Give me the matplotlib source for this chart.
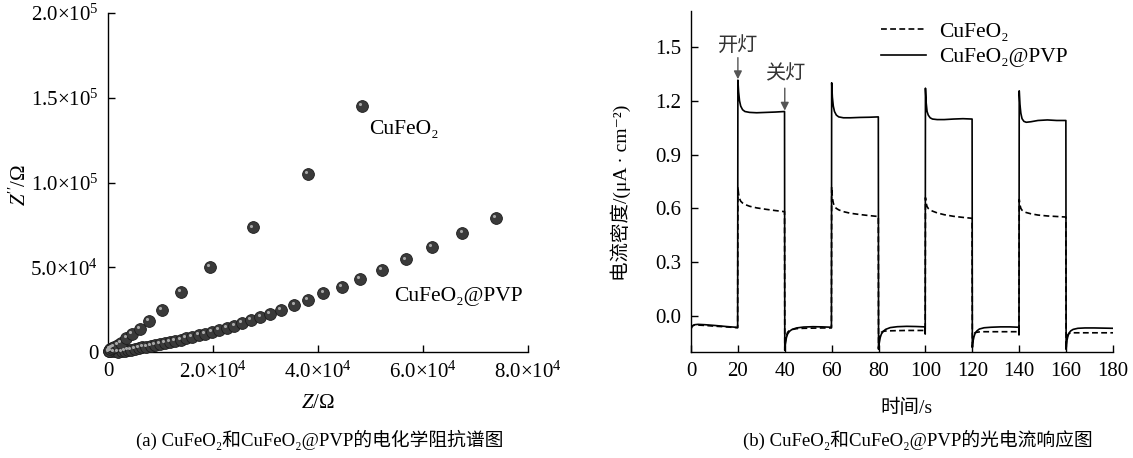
import matplotlib
matplotlib.use("Agg")
import matplotlib.pyplot as plt
import matplotlib.transforms as mtransforms

plt.rcParams['font.family'] = ['Liberation Serif', 'Noto Sans CJK SC', 'DejaVu Sans']
plt.rcParams['mathtext.fontset'] = 'custom'
plt.rcParams['mathtext.rm'] = 'Liberation Serif'
plt.rcParams['mathtext.it'] = 'Liberation Serif:italic'
plt.rcParams['font.size'] = 14

# ---- (a) EIS data ----
eis_x_cufeo2 = [100, 300, 700, 1200, 1900, 2500, 3500, 4600, 6100, 7800,
                10300, 13900, 19400, 27600, 38100, 48400]
eis_y_cufeo2 = [600, 1800, 2400, 3000, 4200, 5300, 8300, 10600, 13600, 18300,
                24800, 35400, 50300, 73500, 105000, 145000]

eis_x_pvp = [200, 600, 1200, 1900, 2600, 3250, 3810, 4430, 5130, 5810, 6570,
             7320, 8150, 8960, 9850, 10790, 11740, 12740, 13810, 14870,
             16000, 17260, 18530, 19770, 21170, 22600, 24060, 25570, 27210,
             29020, 30910, 32980, 35510, 38020, 41040, 44490, 48020, 52100,
             56700, 61700, 67500, 73900]
eis_y_pvp = [400, 500, 300, 200, 300, 590, 1000, 1360, 1770, 2180, 2770,
             3130, 3720, 4130, 4720, 5310, 5900, 6670, 7260, 8080,
             8850, 9850, 10800, 11800, 12980, 14160, 15520, 16930, 18700,
             20470, 22420, 24780, 27730, 30680, 34630, 38530, 42890, 48200,
             54600, 61800, 70300, 79300]

eis_xticks = [0, 20000, 40000, 60000, 80000]
eis_xticklabels = ['0', r'$2.0{\times}10^{4}$', r'$4.0{\times}10^{4}$',
                   r'$6.0{\times}10^{4}$', r'$8.0{\times}10^{4}$']
eis_yticks = [0, 50000, 100000, 150000, 200000]
eis_yticklabels = ['0', r'$5.0{\times}10^{4}$', r'$1.0{\times}10^{5}$',
                   r'$1.5{\times}10^{5}$', r'$2.0{\times}10^{5}$']

# ---- (b) photocurrent data ----
t_pc = [0, 0.5, 1.5, 3, 6, 10, 15, 19.9,
        20, 20.3, 20.7, 21.2, 22, 23, 25, 28, 32, 36, 39.9,
        40, 40.3, 40.7, 41.2, 42, 43, 45, 48, 52, 56, 59.9,
        60, 60.3, 60.7, 61.2, 62, 63, 65, 68, 72, 76, 79.9,
        80, 80.3, 80.7, 81.2, 82, 83, 85, 88, 92, 96, 99.8, 99.9,
        100, 100.3, 100.7, 101.2, 102, 103, 105, 108, 112, 116, 119.9,
        120, 120.3, 120.7, 121.2, 122, 123, 125, 128, 132, 136, 139.8, 139.9,
        140, 140.3, 140.7, 141.2, 142, 143, 145, 148, 152, 156, 159.9,
        160, 160.3, 160.7, 161.2, 162, 163, 165, 168, 172, 176, 180]

j_pvp = [-0.072, -0.055, -0.048, -0.046, -0.048, -0.052, -0.058, -0.063,
         1.315, 1.25, 1.2, 1.17, 1.15, 1.14, 1.135, 1.133, 1.135, 1.137, 1.14,
         -0.19, -0.15, -0.12, -0.1, -0.085, -0.075, -0.066, -0.061, -0.059, -0.06, -0.062,
         1.3, 1.22, 1.17, 1.14, 1.12, 1.11, 1.105, 1.105, 1.107, 1.108, 1.11,
         -0.185, -0.15, -0.12, -0.1, -0.085, -0.074, -0.064, -0.059, -0.057, -0.058, -0.06, -0.1,
         1.27, 1.19, 1.14, 1.12, 1.105, 1.098, 1.095, 1.095, 1.098, 1.1, 1.098,
         -0.175, -0.14, -0.115, -0.095, -0.082, -0.072, -0.065, -0.062, -0.06, -0.06, -0.062, -0.105,
         1.255, 1.18, 1.13, 1.1, 1.085, 1.08, 1.083, 1.09, 1.093, 1.09, 1.09,
         -0.185, -0.14, -0.115, -0.095, -0.082, -0.074, -0.068, -0.066, -0.066, -0.067, -0.068]

j_cufeo2 = [-0.07, -0.055, -0.05, -0.05, -0.052, -0.056, -0.06, -0.065,
            0.72, 0.68, 0.655, 0.64, 0.63, 0.622, 0.612, 0.603, 0.595, 0.588, 0.582,
            -0.19, -0.14, -0.11, -0.09, -0.08, -0.075, -0.07, -0.068, -0.067, -0.066, -0.066,
            0.72, 0.66, 0.63, 0.61, 0.6, 0.592, 0.582, 0.573, 0.566, 0.56, 0.555,
            -0.18, -0.12, -0.1, -0.09, -0.085, -0.083, -0.082, -0.081, -0.08, -0.08, -0.08, -0.08,
            0.66, 0.63, 0.61, 0.6, 0.592, 0.585, 0.575, 0.565, 0.556, 0.55, 0.545,
            -0.17, -0.12, -0.1, -0.092, -0.09, -0.088, -0.087, -0.087, -0.087, -0.087, -0.087, -0.087,
            0.65, 0.62, 0.6, 0.59, 0.582, 0.577, 0.57, 0.563, 0.558, 0.555, 0.552,
            -0.18, -0.125, -0.105, -0.097, -0.094, -0.093, -0.093, -0.093, -0.093, -0.093, -0.093]

pc_xticks = [0, 20, 40, 60, 80, 100, 120, 140, 160, 180]
pc_yticks = [0.0, 0.3, 0.6, 0.9, 1.2, 1.5]
pc_yticklabels = ['0.0', '0.3', '0.6', '0.9', '1.2', '1.5']

W, H = 1133, 458


def px(x, y):
    # pixel position (from top-left) -> figure fraction
    return x / W, 1 - y / H


def style_axes(ax):
    for s in ('top', 'right'):
        ax.spines[s].set_visible(False)
    for s in ('left', 'bottom'):
        ax.spines[s].set_linewidth(1.0)
    ax.tick_params(direction='in', length=5, width=1.0, labelsize=15, pad=7)


def spheres(ax, x, y):
    ax.scatter(x, y, s=72, color='#3a3a3a', edgecolors='#1c1c1c',
               linewidths=0.6, zorder=3, clip_on=False)
    hl = mtransforms.offset_copy(ax.transData, fig=ax.figure, x=-1.3, y=1.3, units='points')
    ax.scatter(x, y, s=5, color='#a8a8a8', linewidths=0, zorder=4,
               transform=hl, clip_on=False)


fig = plt.figure(figsize=(W / 100, H / 100), dpi=100)

# (a) EIS
ax1 = fig.add_axes([108 / W, 1 - 352 / H, (528 - 108) / W, (352 - 13) / H])
style_axes(ax1)
spheres(ax1, eis_x_pvp, eis_y_pvp)
spheres(ax1, eis_x_cufeo2, eis_y_cufeo2)
ax1.set_xlim(0, 80000)
ax1.set_ylim(0, 200000)
ax1.set_xticks(eis_xticks)
ax1.set_xticklabels(eis_xticklabels)
ax1.set_yticks(eis_yticks)
ax1.set_yticklabels(eis_yticklabels)
ax1.text(49800, 131000, 'CuFeO₂', fontsize=15.5, va='center')
ax1.text(54500, 33000, 'CuFeO₂@PVP', fontsize=15.5, va='center')

# (b) photocurrent
ax2 = fig.add_axes([691 / W, 1 - 352 / H, (1113 - 691) / W, (352 - 11) / H])
style_axes(ax2)
ax2.plot(t_pc, j_cufeo2, color='black', lw=1.2, ls=(0, (3.5, 2)), label='CuFeO₂')
ax2.plot(t_pc, j_pvp, color='black', lw=1.2, label='CuFeO₂@PVP')
ax2.set_xlim(0, 180)
ax2.set_ylim(-0.2, 1.7)
ax2.set_xticks(pc_xticks)
ax2.set_yticks(pc_yticks)
ax2.set_yticklabels(pc_yticklabels)
ax2.legend(loc='upper left', bbox_to_anchor=(0.405, 1.025), frameon=False,
           fontsize=15.5, handlelength=2.1, handletextpad=0.6, labelspacing=0.25)

arrow = dict(arrowstyle='-|>', color='#555555', lw=1.0, mutation_scale=12,
             shrinkA=0, shrinkB=0)
ax2.annotate('', xy=(20, 1.32), xytext=(20, 1.44), arrowprops=arrow)
ax2.text(20, 1.505, '开灯', ha='center', va='center', fontsize=14.5, color='#333333')
ax2.annotate('', xy=(40, 1.145), xytext=(40, 1.27), arrowprops=arrow)
ax2.text(40, 1.345, '关灯', ha='center', va='center', fontsize=14.5, color='#333333')

# axis titles and captions
fig.text(*px(20, 185), "$Z''$/Ω", rotation=90, ha='center', va='center', fontsize=15)
fig.text(*px(318, 403), '$Z$/Ω', ha='center', va='center', fontsize=15)
fig.text(*px(320, 440), '(a) CuFeO₂和CuFeO₂@PVP的电化学阻抗谱图',
         ha='center', va='center', fontsize=13.5)

fig.text(*px(621, 193), '电流密度/(μA · cm⁻²)', rotation=90, ha='center',
         va='center', fontsize=14)
fig.text(*px(906, 408), '时间/s', ha='center', va='center', fontsize=14)
fig.text(*px(918, 440), '(b) CuFeO₂和CuFeO₂@PVP的光电流响应图',
         ha='center', va='center', fontsize=13.5)

fig.savefig('out.png', dpi=100)
